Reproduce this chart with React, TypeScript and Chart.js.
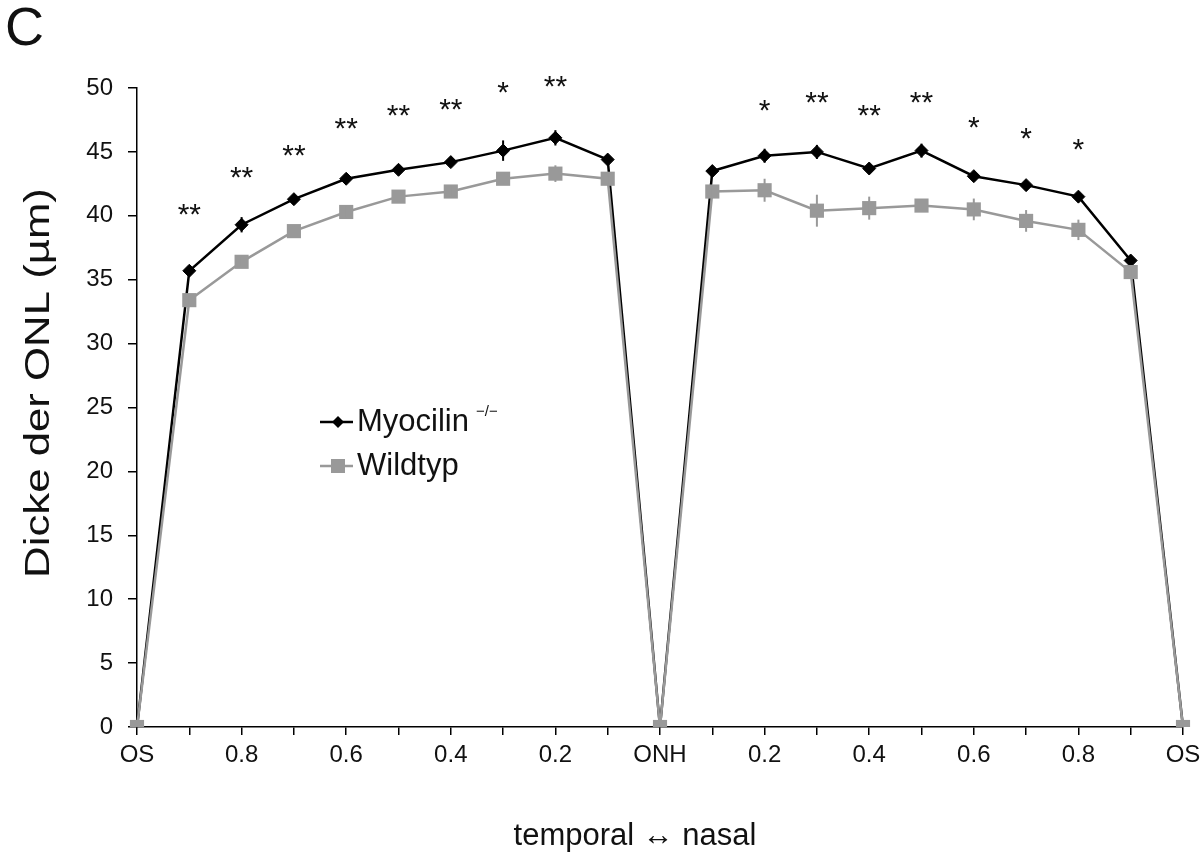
import React, { useEffect, useRef } from "react";
import { Chart, registerables } from "chart.js";

Chart.register(...registerables);

// Positions along the retina, temporal periphery -> optic nerve head -> nasal periphery
const positions = [
  "OS", "0.9", "0.8", "0.7", "0.6", "0.5", "0.4", "0.3", "0.2", "0.1",
  "ONH",
  "0.1", "0.2", "0.3", "0.4", "0.5", "0.6", "0.7", "0.8", "0.9", "OS",
];

// ONL thickness (µm)
const myocilin = [0, 35.7, 39.3, 41.3, 42.9, 43.6, 44.2, 45.1, 46.1, 44.4, 0, 43.5, 44.7, 45.0, 43.7, 45.1, 43.1, 42.4, 41.5, 36.5, 0];
const myocilinErr = [0, 0.3, 0.6, 0.3, 0.3, 0.3, 0.3, 0.8, 0.6, 0.3, 0, 0.3, 0.55, 0.55, 0.35, 0.55, 0.35, 0.35, 0.35, 0.3, 0];
const wildtyp = [0, 33.4, 36.4, 38.8, 40.3, 41.5, 41.9, 42.9, 43.3, 42.9, 0, 41.9, 42.0, 40.4, 40.6, 40.8, 40.5, 39.6, 38.9, 35.6, 0];
const wildtypErr = [0, 0.4, 0.4, 0.4, 0.4, 0.4, 0.4, 0.4, 0.65, 0.4, 0, 0.4, 0.9, 1.25, 0.9, 0.45, 0.85, 0.85, 0.8, 0.3, 0];

// Significance markers and the level (µm) at which each is shown
const sigMarks = ["", "**", "**", "**", "**", "**", "**", "*", "**", "", "", "", "*", "**", "**", "**", "*", "*", "*", "", ""];
const sigLevel: (number | null)[] = [null, 40.7, 43.6, 45.3, 47.4, 48.4, 48.9, 50.2, 50.7, null, null, null, 48.85, 49.45, 48.45, 49.45, 47.5, 46.65, 45.8, null, null];

const yTicks = [0, 5, 10, 15, 20, 25, 30, 35, 40, 45, 50];

const FONT = "'Liberation Sans', Arial, Helvetica, sans-serif";
const BLACK = "#000000";
const GREY = "#999999";

const errorBars = [myocilinErr, wildtypErr];

const decorations = {
  id: "decorations",
  afterDatasetsDraw(chart: any) {
    const ctx = chart.ctx;
    const yScale = chart.scales.y;
    // vertical error bars
    chart.data.datasets.forEach((ds: any, di: number) => {
      const meta = chart.getDatasetMeta(di);
      const errs = errorBars[di];
      ctx.save();
      ctx.strokeStyle = ds.borderColor;
      ctx.lineWidth = 2;
      meta.data.forEach((pt: any, i: number) => {
        const e = errs[i];
        if (!e) return;
        const v = ds.data[i];
        ctx.beginPath();
        ctx.moveTo(pt.x, yScale.getPixelForValue(v + e));
        ctx.lineTo(pt.x, yScale.getPixelForValue(v - e));
        ctx.stroke();
      });
      ctx.restore();
    });
  },
  afterDraw(chart: any) {
    const ctx = chart.ctx;
    const xScale = chart.scales.x;
    const yScale = chart.scales.y;

    ctx.save();
    ctx.fillStyle = "#111";

    // significance asterisks
    ctx.font = `30px ${FONT}`;
    ctx.textAlign = "center";
    ctx.textBaseline = "alphabetic";
    sigMarks.forEach((m, i) => {
      const lvl = sigLevel[i];
      if (!m || lvl == null) return;
      const x = xScale.getPixelForValue(i);
      const y = yScale.getPixelForValue(lvl);
      ctx.fillText(m, x, y + 17);
    });

    // panel letter
    ctx.textAlign = "left";
    ctx.font = `54px ${FONT}`;
    ctx.fillText("C", 5, 45);

    // x axis title
    ctx.textAlign = "center";
    ctx.font = `31px ${FONT}`;
    ctx.fillText("temporal \u2194 nasal", 635, 845);

    // y axis title
    ctx.save();
    ctx.translate(49, 383);
    ctx.rotate(-Math.PI / 2);
    ctx.scale(1.25, 1);
    ctx.font = `35px ${FONT}`;
    ctx.textAlign = "center";
    ctx.fillText("Dicke der ONL (\u00b5m)", 0, 0);
    ctx.restore();

    // legend
    const lx0 = 320, lx1 = 353, mx = 338;
    const rows = [
      { y: 422, color: BLACK, label: "Myocilin", marker: "diamond" },
      { y: 466, color: GREY, label: "Wildtyp", marker: "square" },
    ];
    rows.forEach((r) => {
      ctx.strokeStyle = r.color;
      ctx.fillStyle = r.color;
      ctx.lineWidth = 2.5;
      ctx.beginPath();
      ctx.moveTo(lx0, r.y);
      ctx.lineTo(lx1, r.y);
      ctx.stroke();
      ctx.beginPath();
      if (r.marker === "diamond") {
        ctx.moveTo(mx - 6, r.y);
        ctx.lineTo(mx, r.y - 6);
        ctx.lineTo(mx + 6, r.y);
        ctx.lineTo(mx, r.y + 6);
        ctx.closePath();
      } else {
        ctx.rect(mx - 7, r.y - 7, 14, 14);
      }
      ctx.fill();
      ctx.fillStyle = "#111";
      ctx.textAlign = "left";
      ctx.font = `31px ${FONT}`;
      ctx.fillText(r.label, 357, r.y + 9);
    });
    ctx.font = `15px ${FONT}`;
    ctx.fillText("\u2212/\u2212", 476, 416);

    ctx.restore();
  },
};

export default function App() {
  const canvasRef = useRef<HTMLCanvasElement | null>(null);

  useEffect(() => {
    const canvas = canvasRef.current;
    if (!canvas) return;
    const chart = new Chart(canvas, {
      type: "line",
      data: {
        labels: positions,
        datasets: [
          {
            label: "Myocilin -/-",
            data: myocilin,
            borderColor: BLACK,
            backgroundColor: BLACK,
            borderWidth: 2.5,
            pointStyle: "rectRot",
            pointRadius: 6.5,
            pointBorderWidth: 1,
            tension: 0,
            order: 1,
          },
          {
            label: "Wildtyp",
            data: wildtyp,
            borderColor: GREY,
            backgroundColor: GREY,
            borderWidth: 2.5,
            pointStyle: "rect",
            pointRadius: 10,
            pointBorderWidth: 0,
            tension: 0,
            order: 0,
          },
        ],
      },
      options: {
        animation: false,
        responsive: false,
        devicePixelRatio: 1,
        layout: { padding: { left: 0, top: 88, right: 18, bottom: 0 } },
        plugins: {
          legend: { display: false },
          tooltip: { enabled: false },
        },
        scales: {
          x: {
            type: "category",
            offset: false,
            afterFit: (s: any) => {
              s.height = 125;
              s.paddingLeft = 0;
              s.paddingRight = 0;
            },
            grid: {
              drawOnChartArea: false,
              drawTicks: true,
              tickLength: 8,
              color: "#000",
              lineWidth: 1.5,
            },
            border: { display: true, color: "#000", width: 1.5 },
            ticks: {
              autoSkip: false,
              maxRotation: 0,
              padding: 6,
              color: "#111",
              font: { family: FONT, size: 24 },
              callback: (_v: any, i: number) => (i % 2 === 0 ? positions[i] : ""),
            },
          },
          y: {
            min: 0,
            max: 50,
            afterFit: (s: any) => {
              s.width = 137;
            },
            afterBuildTicks: (s: any) => {
              s.ticks = yTicks.map((v) => ({ value: v }));
            },
            grid: {
              drawOnChartArea: false,
              drawTicks: true,
              tickLength: 9,
              color: "#000",
              lineWidth: 1.5,
            },
            border: { display: true, color: "#000", width: 1.5 },
            ticks: {
              padding: 15,
              color: "#111",
              font: { family: FONT, size: 24 },
            },
          },
        },
      },
      plugins: [decorations],
    });
    return () => chart.destroy();
  }, []);

  return (
    <div style={{ position: "absolute", left: 0, top: 0, width: 1201, height: 852, background: "#fff" }}>
      <canvas ref={canvasRef} width={1201} height={852} style={{ display: "block" }} />
    </div>
  );
}
